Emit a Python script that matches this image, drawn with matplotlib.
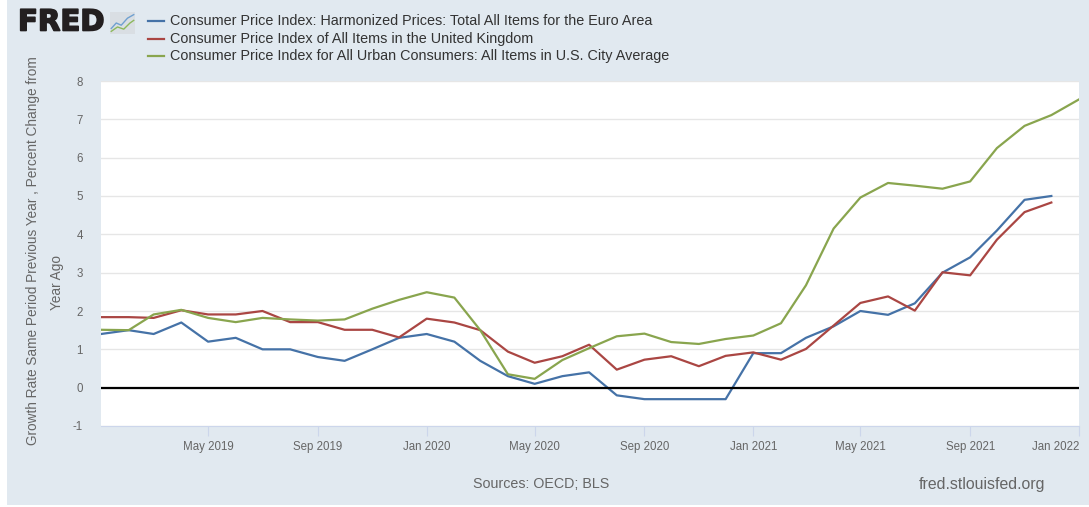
import matplotlib
matplotlib.use("Agg")
import matplotlib.pyplot as plt
import matplotlib.patheffects as pe
import pandas as pd
from matplotlib.patches import Rectangle

plt.rcParams['font.family'] = ['Liberation Sans', 'DejaVu Sans']
plt.rcParams['axes.unicode_minus'] = False

# --- DATA ---
months = pd.date_range("2019-01-01", "2022-01-01", freq="MS")

euro_area = [1.4, 1.5, 1.4, 1.7, 1.2, 1.3, 1.0, 1.0, 0.8, 0.7, 1.0, 1.3,
             1.4, 1.2, 0.7, 0.3, 0.1, 0.3, 0.4, -0.2, -0.3, -0.3, -0.3, -0.3,
             0.9, 0.9, 1.3, 1.6, 2.0, 1.9, 2.2, 3.0, 3.4, 4.1, 4.9, 5.0]
united_kingdom = [1.84, 1.84, 1.82, 2.02, 1.91, 1.91, 2.0, 1.71, 1.71, 1.51, 1.51, 1.31,
                  1.8, 1.7, 1.5, 0.94, 0.65, 0.82, 1.12, 0.47, 0.73, 0.82, 0.56, 0.83,
                  0.92, 0.73, 1.01, 1.62, 2.21, 2.38, 2.01, 3.01, 2.93, 3.86, 4.58, 4.83]
united_states = [1.51, 1.5, 1.91, 2.03, 1.82, 1.71, 1.82, 1.78, 1.75, 1.78, 2.06, 2.29,
                 2.49, 2.35, 1.5, 0.35, 0.23, 0.72, 1.03, 1.34, 1.41, 1.19, 1.14, 1.27,
                 1.36, 1.68, 2.67, 4.15, 4.96, 5.34, 5.27, 5.19, 5.38, 6.25, 6.83, 7.11,
                 7.52]

series_names = ["Consumer Price Index: Harmonized Prices: Total All Items for the Euro Area",
                "Consumer Price Index of All Items in the United Kingdom",
                "Consumer Price Index for All Urban Consumers: All Items in U.S. City Average"]
colors = ["#4572A7", "#AA4643", "#89A54E"]

tick_dates = pd.to_datetime(["2019-05-01", "2019-09-01", "2020-01-01", "2020-05-01",
                             "2020-09-01", "2021-01-01", "2021-05-01", "2021-09-01",
                             "2022-01-01"])
tick_labels = [d.strftime("%b %Y") for d in tick_dates]
y_ticks = list(range(-1, 9))

# --- FIGURE ---
W, H = 1089, 507
fig = plt.figure(figsize=(W / 100, H / 100), dpi=100, facecolor="white")
fig.patches.append(Rectangle((7 / W, 2 / H), 1 - 7 / W, 1 - 2 / H, transform=fig.transFigure,
                             facecolor="#E1E9F0", edgecolor="none", zorder=-1))

left, right, top, bottom = 101, 1079, 81, 426
ax = fig.add_axes([left / W, 1 - bottom / H, (right - left) / W, (bottom - top) / H])
ax.set_facecolor("white")

ax.plot(months[:len(euro_area)], euro_area, color=colors[0], lw=1.6, zorder=3)
ax.plot(months[:len(united_kingdom)], united_kingdom, color=colors[1], lw=1.6, zorder=3)
ax.plot(months[:len(united_states)], united_states, color=colors[2], lw=1.6, zorder=3)
ax.axhline(0, color="black", lw=1.6, zorder=4)

ax.set_xlim(months[0], months[-1])
ax.set_ylim(-1, 8)
ax.set_yticks(y_ticks)
ax.yaxis.grid(True, color="#E6E6E6", lw=1)
ax.set_axisbelow(True)
for s in ["top", "right", "left"]:
    ax.spines[s].set_visible(False)
ax.spines["bottom"].set_color("#CCD6EB")
ax.tick_params(axis="y", length=0, pad=13, labelsize=8.3, labelcolor="#666666")
ax.set_xticks(tick_dates)
ax.set_xticklabels(tick_labels)
ax.tick_params(axis="x", length=7, width=0.8, color="#CCD6EB", pad=4,
               labelsize=8.3, labelcolor="#666666")
ax.get_xticklabels()[-1].set_ha("right")

# y-axis title, two lines as drawn by FRED
fig.text(33 / W, 1 - 251 / H, "Growth Rate Same Period Previous Year , Percent Change from",
         rotation=90, ha="center", va="center", fontsize=9.85, color="#666666")
fig.text(57 / W, 1 - 283 / H, "Year Ago",
         rotation=90, ha="center", va="center", fontsize=9.85, color="#666666")

# FRED logo
fig.text(18 / W, 1 - 22.5 / H, "FRED", fontsize=21, fontweight="bold", color="#231F20",
         ha="left", va="center", family="DejaVu Sans",
         path_effects=[pe.withStroke(linewidth=1.2, foreground="#231F20")])
logo = fig.add_axes([110 / W, 1 - 34 / H, 25 / W, 22 / H])
logo.set_facecolor("#D9DEE3")
logo.plot([0.05, 0.25, 0.45, 0.7, 0.95], [0.25, 0.5, 0.4, 0.72, 0.88], color="#6FA0D0", lw=1)
logo.plot([0.05, 0.3, 0.55, 0.8, 0.95], [0.12, 0.32, 0.22, 0.5, 0.62], color="#8CB85C", lw=1)
logo.set_xlim(0, 1)
logo.set_ylim(0, 1)
logo.set_xticks([])
logo.set_yticks([])
for s in logo.spines.values():
    s.set_visible(False)

# legend
for i, (name, c) in enumerate(zip(series_names, colors)):
    y = 1 - (21 + i * 17.5) / H
    fig.add_artist(plt.Line2D([148 / W, 164 / W], [y, y], color=c, lw=1.6,
                              transform=fig.transFigure))
    fig.text(170 / W, y, name, fontsize=10.4, color="#333333", ha="left", va="center")

# footer
fig.text(541 / W, 1 - 484 / H, "Sources: OECD; BLS", fontsize=10.3, color="#666666",
         ha="center", va="center")
fig.text(1045 / W, 1 - 484 / H, "fred.stlouisfed.org", fontsize=11.4, color="#666666",
         ha="right", va="center")

fig.savefig("out.png", dpi=100, facecolor=fig.get_facecolor())
